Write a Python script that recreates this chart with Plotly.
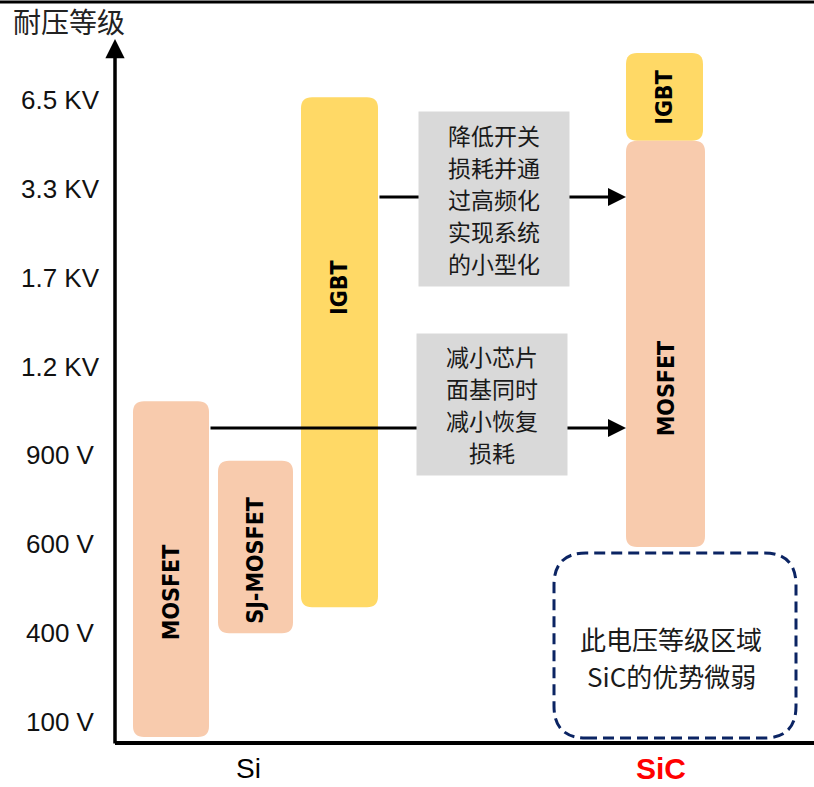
import plotly.graph_objects as go

# ---- data -------------------------------------------------------------
voltage_labels = ["100 V", "400 V", "600 V", "900 V", "1.2 KV", "1.7 KV", "3.3 KV", "6.5 KV"]
voltage_levels = list(range(len(voltage_labels)))

device_names = ["MOSFET", "SJ-MOSFET", "IGBT", "IGBT", "MOSFET"]
device_material = ["Si", "Si", "Si", "SiC", "SiC"]
level_low = [-0.17, 1.00, 1.29, 6.54, 1.97]
level_high = [3.61, 2.94, 7.03, 7.53, 6.54]

materials = ["Si", "SiC"]

note_switching = ["降低开关", "损耗并通", "过高频化", "实现系统", "的小型化"]
note_recovery = ["减小芯片", "面基同时", "减小恢复", "损耗"]
note_weak = ["此电压等级区域", "SiC的优势微弱"]
axis_title = "耐压等级"

# ---- layout / style ---------------------------------------------------
W, H = 814, 787
ML = 115                      # left margin: the vertical axis sits here
XW = W - ML                   # width of the plot area in x units (1 unit = 1 px)
PX_PER_LEVEL = 88.86          # vertical pixels per voltage level
Y_TOP = 722 / PX_PER_LEVEL    # level shown at the very top of the plot area
Y_BOT = (722 - H) / PX_PER_LEVEL

PEACH = "#F8CBAD"
YELLOW = "#FFD966"
GREY = "#D9D9D9"
NAVY = "#0B2463"

bar_x = [(18, 94), (103, 178), (186, 263), (511, 588), (511, 590)]
bar_color = [PEACH, PEACH, YELLOW, YELLOW, PEACH]
label_level = [1.45, 1.82, 4.89, 7.03, 3.75]
material_x = {"Si": 133, "SiC": 546}
material_color = {"Si": "#000000", "SiC": "#FF0000"}

LABEL_FONT = "Liberation Sans Narrow, DejaVu Sans Condensed, Roboto Condensed, Liberation Sans, Arial"
CJK_FONT = "Noto Sans CJK SC, Noto Sans, sans-serif"
LATIN_FONT = "Liberation Sans, Arial, sans-serif"


def lvl(px_y):
    """Convert a vertical pixel offset into the level scale."""
    return px_y / PX_PER_LEVEL


def at_px(py):
    """Level value at a given pixel row of the page."""
    return (722 - py) / PX_PER_LEVEL


def rounded_rect(x0, x1, y0, y1, r_px):
    rx, ry = r_px, lvl(r_px)
    return (f"M {x0+rx},{y0} L {x1-rx},{y0} Q {x1},{y0} {x1},{y0+ry} "
            f"L {x1},{y1-ry} Q {x1},{y1} {x1-rx},{y1} L {x0+rx},{y1} "
            f"Q {x0},{y1} {x0},{y1-ry} L {x0},{y0+ry} Q {x0},{y0} {x0+rx},{y0} Z")


fig = go.Figure()
# invisible anchor trace so the axes exist
fig.add_trace(go.Scatter(x=[0, XW], y=[Y_BOT, Y_TOP], mode="markers",
                         marker=dict(opacity=0), hoverinfo="skip", showlegend=False))

shapes = []
annotations = []

# device bars
for name, (x0, x1), lo, hi, col, ly in zip(device_names, bar_x, level_low, level_high,
                                            bar_color, label_level):
    shapes.append(dict(type="path", xref="x", yref="y", path=rounded_rect(x0, x1, lo, hi, 11),
                       fillcolor=col, line=dict(width=0), layer="below"))
    annotations.append(dict(x=(x0 + x1) / 2, y=ly, xref="x", yref="y", text=f"<b>{name}</b>",
                            textangle=-90, showarrow=False,
                            font=dict(family=LABEL_FONT, size=23, color="#000000")))

# x axis line
x_axis_level = at_px(743)
shapes.append(dict(type="line", xref="x", yref="y", x0=-2, x1=XW, y0=x_axis_level, y1=x_axis_level,
                   line=dict(color="#000000", width=4)))

# dashed region where SiC offers little advantage
shapes.append(dict(type="path", xref="x", yref="y",
                   path=rounded_rect(439, 681, at_px(738), at_px(553), 32),
                   line=dict(color=NAVY, width=3, dash="11px,6px"), fillcolor="rgba(0,0,0,0)"))

# top border
shapes.append(dict(type="line", xref="paper", yref="paper", x0=-ML / XW, x1=1,
                   y0=1 - 2 / H, y1=1 - 2 / H, line=dict(color="#000000", width=3)))

# vertical axis with arrow
annotations.append(dict(x=0, y=at_px(39), ax=0, ay=at_px(745), xref="x", yref="y",
                        axref="x", ayref="y", text="", showarrow=True, arrowhead=2,
                        arrowsize=1.1, arrowwidth=3.5, arrowcolor="#000000", standoff=0))

# migration arrows Si -> SiC
for (x_from, x_to, y_lvl) in [(263, 511, at_px(197)), (94, 511, at_px(428))]:
    annotations.append(dict(x=x_to, y=y_lvl, ax=x_from, ay=y_lvl, xref="x", yref="y",
                            axref="x", ayref="y", text="", showarrow=True, arrowhead=2,
                            arrowsize=1.2, arrowwidth=3, arrowcolor="#000000", standoff=0))

# grey explanation boxes (drawn after the arrows so they sit on top), one line per text
LINE_GAP = 32
for lines, xc, yc_px, w, h in [(note_switching, 379, 199, 150, 174),
                               (note_recovery, 377, 404, 150, 141)]:
    annotations.append(dict(x=xc, y=at_px(yc_px), xref="x", yref="y", text=" ",
                            showarrow=False, width=w, height=h, bgcolor=GREY, borderpad=0))
    first = yc_px - LINE_GAP * (len(lines) - 1) / 2
    for i, line in enumerate(lines):
        annotations.append(dict(x=xc, y=at_px(first + i * LINE_GAP), xref="x", yref="y",
                                text=line, showarrow=False, yanchor="middle",
                                font=dict(family=CJK_FONT, size=23, color="#1a1a1a")))

for i, line in enumerate(note_weak):
    annotations.append(dict(x=556, y=at_px(638 + 37 * i), xref="x", yref="y", text=line,
                            showarrow=False, yanchor="middle",
                            font=dict(family=CJK_FONT, size=26, color="#1a1a1a")))

# voltage tick labels (centred in the left margin)
for v, lab in zip(voltage_levels, voltage_labels):
    annotations.append(dict(x=(61 - ML) / XW, y=v, xref="paper", yref="y", text=lab,
                            showarrow=False, xanchor="center", yanchor="middle",
                            font=dict(family=LATIN_FONT, size=26, color="#111111")))

# material labels
for m in materials:
    annotations.append(dict(x=material_x[m], y=at_px(768), xref="x", yref="y",
                            text=f"<b>{m}</b>" if m == "SiC" else m, showarrow=False,
                            yanchor="middle",
                            font=dict(family=LATIN_FONT, size=30 if m == "SiC" else 28,
                                      color=material_color[m])))

# axis title
annotations.append(dict(x=(69 - ML) / XW, y=1 - 21 / H, xref="paper", yref="paper",
                        text=axis_title, showarrow=False, xanchor="center", yanchor="middle",
                        font=dict(family=CJK_FONT, size=28, color="#222222")))

fig.update_layout(
    width=W, height=H,
    margin=dict(l=ML, r=0, t=0, b=0),
    paper_bgcolor="#ffffff", plot_bgcolor="#ffffff",
    xaxis=dict(range=[0, XW], visible=False, fixedrange=True),
    yaxis=dict(range=[Y_BOT, Y_TOP], visible=False, fixedrange=True),
    shapes=shapes, annotations=annotations, showlegend=False,
)

fig.write_html("out.html")
